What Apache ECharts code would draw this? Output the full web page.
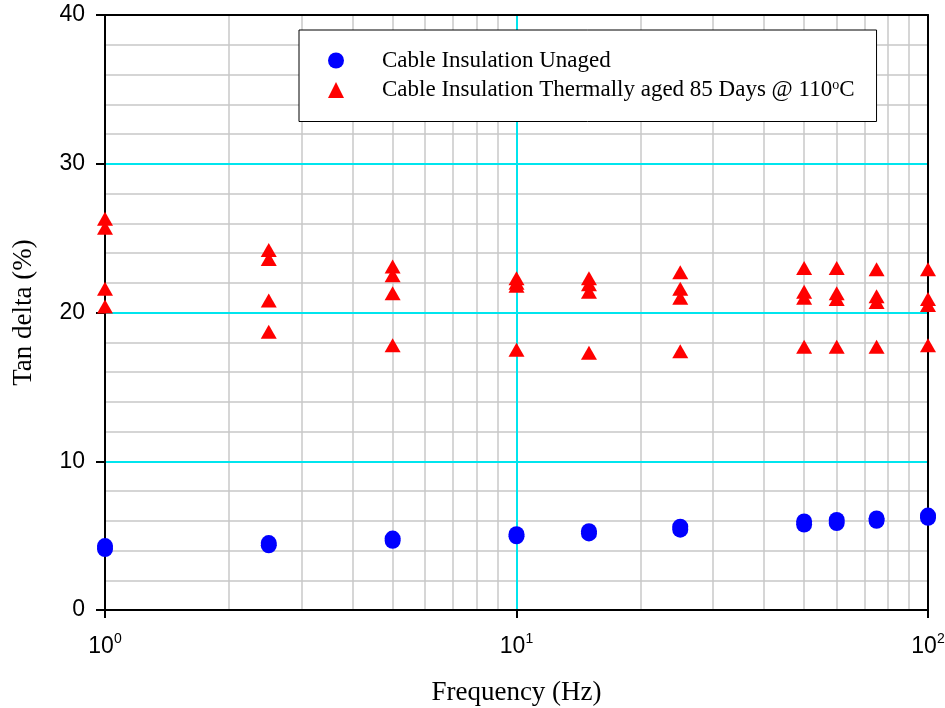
<!DOCTYPE html>
<html>
<head>
<meta charset="utf-8">
<script src="https://cdn.jsdelivr.net/npm/echarts@6/dist/echarts.min.js"></script>
<style>
    html, body { margin: 0; padding: 0; background: #fff; }
    #chart { width: 945px; height: 708px; }
</style>
</head>
<body>
<div id="chart"></div>
<script>
// frequencies (Hz)
var freqs = [1, 2.5, 5, 10, 15, 25, 50, 60, 75, 100];

// unaged cable, two readings per frequency
var unagedA = [4.1, 4.35, 4.65, 4.95, 5.15, 5.4, 5.75, 5.85, 6.0, 6.2];
var unagedB = [4.3, 4.5, 4.8, 5.1, 5.3, 5.6, 5.95, 6.05, 6.15, 6.35];

// thermally aged cable, four readings per frequency
var aged1 = [26.3, 24.2, 23.1, 22.3, 22.3, 22.7, 23.0, 23.0, 22.9, 22.9];
var aged2 = [25.7, 23.6, 22.5, 22.0, 21.9, 21.6, 21.4, 21.3, 21.1, 20.9];
var aged3 = [21.6, 20.8, 21.3, 21.8, 21.4, 21.0, 21.0, 20.9, 20.7, 20.5];
var aged4 = [20.4, 18.7, 17.8, 17.5, 17.3, 17.4, 17.7, 17.7, 17.7, 17.8];

// minor log grid positions
var xMinorGrid = [2, 3, 4, 5, 6, 7, 8, 9, 20, 30, 40, 50, 60, 70, 80, 90];

var yTicks = [0, 10, 20, 30, 40];

var nameUnaged = 'Cable Insulation Unaged';
var nameAged = 'Cable Insulation Thermally aged 85 Days @ 110oC';

function pairs(xs, lists) {
    var out = [];
    for (var k = 0; k < lists.length; k++) {
        for (var i = 0; i < xs.length; i++) {
            out.push([xs[i], lists[k][i]]);
        }
    }
    return out;
}

var myChart = echarts.init(document.getElementById('chart'));

var serif = '"Liberation Serif", "Times New Roman", serif';
var sans = '"Liberation Sans", Arial, sans-serif';

var option = {
    animation: false,
    backgroundColor: '#fff',
    grid: {
        left: 105,
        right: 17,
        top: 15,
        bottom: 98,
        containLabel: false,
        outerBoundsMode: 'none'
    },
    legend: {
        orient: 'vertical',
        left: 299,
        top: 30,
        backgroundColor: '#fff',
        borderColor: '#000',
        borderWidth: 1,
        borderRadius: 0,
        padding: [19, 22, 20, 29],
        itemWidth: 16,
        itemHeight: 16,
        itemGap: 6,
        data: [
            { name: nameUnaged, icon: 'circle' },
            { name: nameAged, icon: 'triangle' }
        ],
        formatter: function (name) {
            if (name === nameAged) {
                return '{g|}{a|Cable Insulation Thermally aged 85 Days @ 110}{s|o}{a|C}';
            }
            return '{g|}{a|' + name + '}';
        },
        textStyle: {
            rich: {
                g: { width: 33 },
                a: { fontFamily: serif, fontSize: 23, lineHeight: 24, color: '#000' },
                s: { fontFamily: serif, fontSize: 14, lineHeight: 12, color: '#000', verticalAlign: 'top' }
            }
        }
    },
    xAxis: [{
        type: 'log',
        logBase: 10,
        min: 1,
        max: 100,
        name: 'Frequency (Hz)',
        nameLocation: 'middle',
        nameGap: 69,
        nameTextStyle: { fontFamily: serif, fontSize: 27, color: '#000' },
        axisLine: { show: true, onZero: false, lineStyle: { color: '#000', width: 2 } },
        axisTick: { show: true, inside: false, length: 8, lineStyle: { color: '#000', width: 2 } },
        minorTick: { show: false },
        splitLine: { show: true, lineStyle: { color: '#00e5ee', width: 2 } },
        axisLabel: {
            margin: 22,
            formatter: function (v) {
                return '{b|10}{s|' + Math.round(Math.log10(v)) + '}';
            },
            rich: {
                b: { fontFamily: sans, fontSize: 23, lineHeight: 26, verticalAlign: 'bottom', color: '#000' },
                s: { fontFamily: sans, fontSize: 14, lineHeight: 14, color: '#000', verticalAlign: 'top' }
            }
        }
    }, {
        type: 'log',
        logBase: 10,
        min: 1,
        max: 100,
        position: 'top',
        axisLine: { show: true, onZero: false, lineStyle: { color: '#000', width: 2 } },
        axisTick: { show: false },
        axisLabel: { show: false },
        splitLine: { show: false }
    }],
    yAxis: [{
        type: 'value',
        min: yTicks[0],
        max: yTicks[yTicks.length - 1],
        interval: 10,
        name: 'Tan delta (%)',
        nameLocation: 'middle',
        nameGap: 68,
        nameRotate: 90,
        nameTextStyle: { fontFamily: serif, fontSize: 27, color: '#000' },
        axisLine: { show: true, onZero: false, lineStyle: { color: '#000', width: 2 } },
        axisTick: { show: true, inside: false, length: 9, lineStyle: { color: '#000', width: 2 } },
        axisLabel: { margin: 20, fontFamily: sans, fontSize: 23, color: '#000' },
        splitLine: { show: true, lineStyle: { color: '#00e5ee', width: 2 } },
        minorTick: { show: false, splitNumber: 5 },
        minorSplitLine: { show: true, lineStyle: { color: '#c8c8c8', width: 1.5 } }
    }, {
        type: 'value',
        min: yTicks[0],
        max: yTicks[yTicks.length - 1],
        position: 'right',
        axisLine: { show: true, onZero: false, lineStyle: { color: '#000', width: 2 } },
        axisTick: { show: false },
        axisLabel: { show: false },
        splitLine: { show: false }
    }],
    series: [{
        name: 'minor-grid',
        type: 'scatter',
        z: -1,
        silent: true,
        data: [],
        markLine: {
            z: -1,
            silent: true,
            symbol: 'none',
            animation: false,
            label: { show: false },
            lineStyle: { color: '#c8c8c8', width: 1.5, type: 'solid' },
            emphasis: { disabled: true },
            data: xMinorGrid.map(function (v) { return { xAxis: v }; })
        }
    }, {
        name: nameUnaged,
        type: 'scatter',
        symbol: 'circle',
        symbolSize: 16,
        z: 10,
        itemStyle: { color: '#0000ff', opacity: 1 },
        data: pairs(freqs, [unagedA, unagedB])
    }, {
        name: nameAged,
        type: 'scatter',
        symbol: 'triangle',
        symbolSize: [16, 14],
        z: 10,
        itemStyle: { color: '#ff0000', opacity: 1 },
        data: pairs(freqs, [aged1, aged2, aged3, aged4])
    }]
};

myChart.setOption(option);
</script>
</body>
</html>
